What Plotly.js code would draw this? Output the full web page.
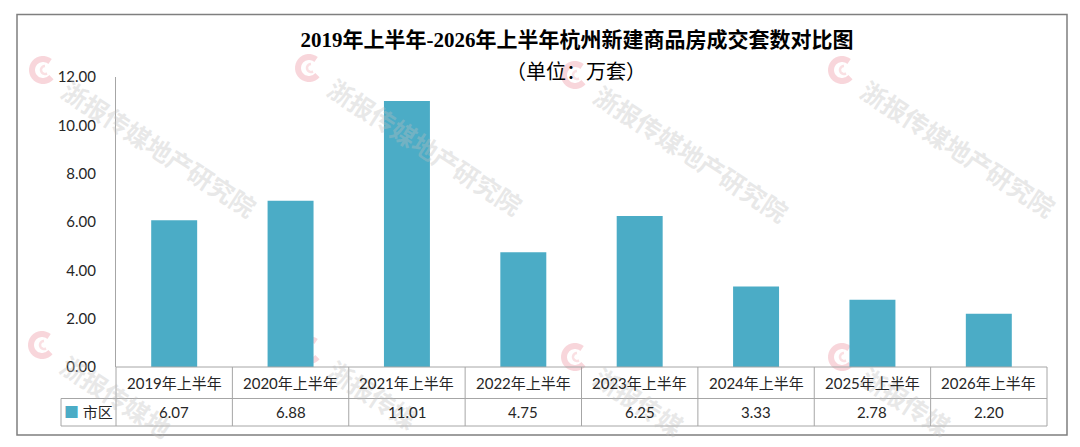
<!DOCTYPE html>
<html>
<head>
<meta charset="utf-8">
<script src="https://cdn.plot.ly/plotly-3.0.1.min.js"></script>
<style>
  html, body { margin: 0; padding: 0; background: #ffffff; }
  #chart { width: 1080px; height: 447px; }
</style>
</head>
<body>
<div id="chart"></div>
<script>
// ---- data ----
const categories = ["2019年上半年", "2020年上半年", "2021年上半年", "2022年上半年",
                    "2023年上半年", "2024年上半年", "2025年上半年", "2026年上半年"];
const seriesName = "市区";
const values = [6.07, 6.88, 11.01, 4.75, 6.25, 3.33, 2.78, 2.20];
const yTickValues = [0, 2, 4, 6, 8, 10, 12];
const titleText = "2019年上半年-2026年上半年杭州新建商品房成交套数对比图";
const subtitleText = "（单位：万套）";
const watermarkText = "浙报传媒地产研究院";

// ---- layout geometry (pixels in the 1080x447 page) ----
const W = 1080, H = 447;
const PL = 116, PR = 1047, PT = 77, PB = 367;
const pw = PR - PL, ph = PB - PT;
const px = x => (x - PL) / pw;
const py = y => (PB - y) / ph;

const barColor = "#4BACC6";
const gridGray = "#a6a6a6";
const textColor = "#262626";
const baseFont = "Lato, 'Noto Sans CJK SC', sans-serif";

const n = categories.length;
const shapes = [];
const annotations = [];

// outer chart border
shapes.push({type: "rect", xref: "paper", yref: "paper",
  x0: px(17), x1: px(1067), y0: py(435), y1: py(14.5),
  line: {color: "#7f7f7f", width: 1.5}, fillcolor: "rgba(0,0,0,0)", layer: "below"});

// watermark (decorative); the lower row is cut by the page edge, so only its first characters are kept
const wmLogos = [[43, 70, 9], [309, 68, 9], [575, 75, 9], [842, 70, 9],
                 [42, 345, 5], [309, 350, 4], [575, 357, 4], [842, 357, 4]];
function arcPath(cx, cy, r, a0, a1) {
  let d = "";
  const steps = 24;
  for (let k = 0; k <= steps; k++) {
    const a = (a0 + (a1 - a0) * k / steps) * Math.PI / 180;
    const x = px(cx + r * Math.cos(a)), y = py(cy - r * Math.sin(a));
    d += (k === 0 ? "M" : "L") + x.toFixed(5) + "," + y.toFixed(5);
  }
  return d;
}
const wmAngle = 33, wmSize = 25;
const ca = Math.cos(wmAngle * Math.PI / 180), sa = Math.sin(wmAngle * Math.PI / 180);
wmLogos.forEach(([lx, ly, nch]) => {
  shapes.push({type: "path", xref: "paper", yref: "paper", layer: "below",
    path: arcPath(lx, ly, 11, 50, 320),
    line: {color: "rgba(240,165,175,0.45)", width: 6}});
  shapes.push({type: "path", xref: "paper", yref: "paper", layer: "below",
    path: arcPath(lx + 2, ly, 4, 90, 300),
    line: {color: "rgba(240,165,175,0.35)", width: 2.5}});
  const half = nch * wmSize / 2;
  const sx = lx + 22, sy = ly + 17;
  annotations.push({xref: "paper", yref: "paper", x: px(sx + half * ca), y: py(sy + half * sa),
    xanchor: "center", yanchor: "middle",
    text: watermarkText.slice(0, nch), showarrow: false, textangle: wmAngle,
    font: {family: "'Noto Sans CJK SC'", size: wmSize, color: "rgba(190,190,190,0.35)", weight: "bold"}});
});

// data table lines
const rowTop = PB, rowMid = 398.5, rowBot = 426, legendLeft = 61;
[rowMid, rowBot].forEach(y => shapes.push({type: "line", xref: "paper", yref: "paper",
  x0: px(legendLeft), x1: 1, y0: py(y), y1: py(y), line: {color: gridGray, width: 1}}));
shapes.push({type: "line", xref: "paper", yref: "paper",
  x0: 0, x1: 1, y0: 0, y1: 0, line: {color: gridGray, width: 1}});
shapes.push({type: "line", xref: "paper", yref: "paper",
  x0: px(legendLeft), x1: px(legendLeft), y0: py(rowMid), y1: py(rowBot), line: {color: gridGray, width: 1}});
for (let i = 0; i <= n; i++) {
  shapes.push({type: "line", xref: "paper", yref: "paper",
    x0: i / n, x1: i / n, y0: py(rowTop), y1: py(rowBot), line: {color: gridGray, width: 1}});
}

// table text
categories.forEach((c, i) => {
  annotations.push({xref: "x", yref: "paper", x: c, y: py((rowTop + rowMid) / 2),
    text: c, showarrow: false, xanchor: "center", yanchor: "middle",
    font: {family: baseFont, size: 15, color: textColor}});
  annotations.push({xref: "x", yref: "paper", x: c, y: py((rowMid + rowBot) / 2),
    text: values[i].toFixed(2), showarrow: false, xanchor: "center", yanchor: "middle",
    font: {family: baseFont, size: 15, color: textColor}});
});
annotations.push({xref: "paper", yref: "paper", x: px(88), y: py((rowMid + rowBot) / 2),
  text: '<span style="color:' + barColor + '">■</span> ' + seriesName, showarrow: false,
  xanchor: "center", yanchor: "middle",
  font: {family: baseFont, size: 15, color: textColor}});

// subtitle
annotations.push({xref: "paper", yref: "paper", x: px(576), y: py(71),
  text: subtitleText, showarrow: false, xanchor: "center", yanchor: "middle",
  font: {family: "'Noto Sans CJK SC', serif", size: 20, color: "#000"}});

const trace = {
  type: "bar",
  x: categories,
  y: values,
  name: seriesName,
  marker: {color: barColor},
  hoverinfo: "x+y"
};

const layout = {
  width: W, height: H,
  margin: {l: PL, r: W - PR, t: PT, b: H - PB, pad: 0},
  paper_bgcolor: "#ffffff",
  plot_bgcolor: "rgba(0,0,0,0)",
  showlegend: false,
  bargap: 0.605,
  title: {
    text: "<b>" + titleText + "</b>",
    xref: "paper", x: px(577), xanchor: "center",
    yref: "container", y: 1 - 40 / H, yanchor: "middle",
    font: {family: "'Liberation Serif', 'Noto Sans CJK SC', serif", size: 21, color: "#000"}
  },
  xaxis: {
    type: "category",
    range: [-0.5, n - 0.5],
    showticklabels: false,
    showline: false, showgrid: false, zeroline: false, ticks: ""
  },
  yaxis: {
    range: [0, 12],
    tickvals: yTickValues,
    ticktext: yTickValues.map(v => v.toFixed(2)),
    showgrid: false, zeroline: false,
    showline: true, linecolor: gridGray, linewidth: 1,
    ticks: "", ticklabelstandoff: 16,
    tickfont: {family: baseFont, size: 15, color: textColor}
  },
  shapes: shapes,
  annotations: annotations
};

Plotly.newPlot("chart", [trace], layout, {displayModeBar: false, staticPlot: true});
</script>
</body>
</html>
